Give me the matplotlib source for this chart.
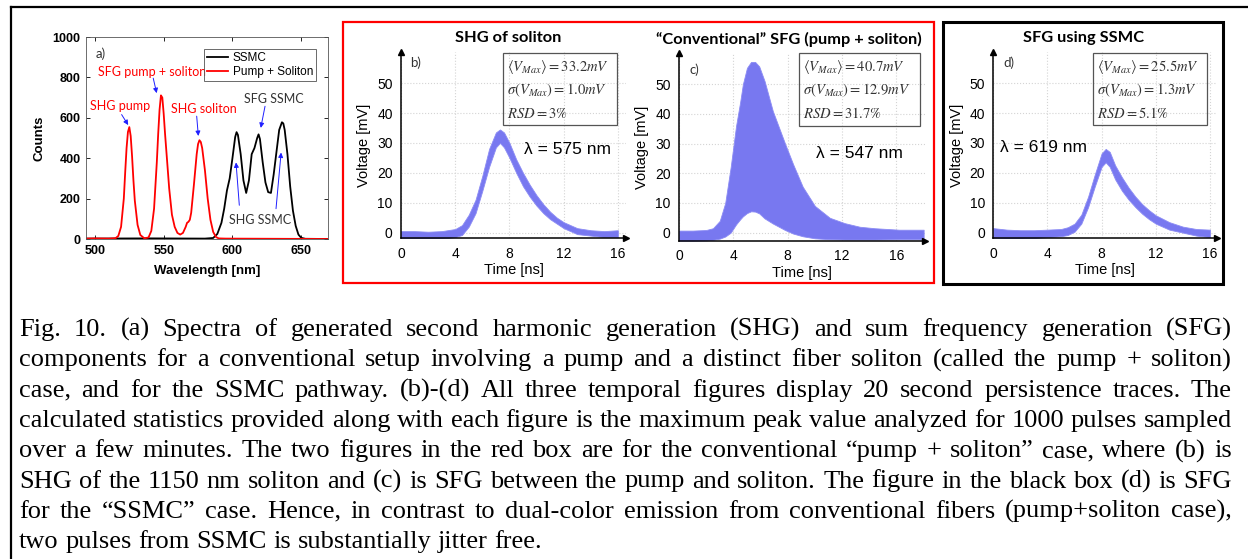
import matplotlib
matplotlib.use("Agg")
import matplotlib.pyplot as plt
from matplotlib.patches import Rectangle
from matplotlib.lines import Line2D

# ---- data: panel a, spectra ----
wl_red = [493, 500, 510, 515, 517, 519, 521, 522, 523, 524, 525, 526, 527, 528, 529, 531,
          533, 536, 539, 541, 543, 545, 546, 547, 548, 549, 550, 551, 552, 554, 556, 558,
          560, 562, 564, 566, 567, 568, 569, 570, 572, 574, 575, 576, 577, 578, 580, 582,
          584, 586, 588, 590, 595, 670]
counts_red = [2, 3, 2, 4, 15, 60, 200, 330, 450, 530, 554, 510, 410, 290, 190, 70,
              20, 3, 8, 40, 150, 380, 520, 640, 711, 700, 620, 520, 430, 250, 120, 60,
              30, 22, 30, 60, 80, 85, 95, 130, 270, 420, 470, 489, 480, 450, 340, 200,
              95, 35, 10, 3, 2, 0]
wl_ssmc = [493, 540, 580, 586, 589, 592, 594, 596, 598, 600, 602, 603, 604, 606, 608, 610,
           612, 614, 616, 618, 619, 620, 622, 624, 626, 628, 630, 632, 634, 636, 637, 638,
           640, 642, 644, 646, 648, 650, 653, 670]
counts_ssmc = [2, 3, 2, 5, 25, 80, 150, 240, 300, 400, 505, 529, 515, 420, 290, 228,
               290, 420, 450, 500, 518, 495, 380, 280, 232, 228, 320, 430, 540, 578, 572, 540,
               420, 260, 140, 65, 22, 6, 1, 0]

# ---- data: panels b-d, persistence envelopes (time in ns, voltage in mV) ----
t_b = [0, 1, 2, 3, 4, 4.5, 5, 5.5, 6, 6.5, 7, 7.3, 7.6, 8, 8.5, 9, 9.5, 10, 10.5, 11,
       11.5, 12, 13, 14, 15, 16]
up_b = [0.5, 0.5, 0.3, 0.5, 1.2, 2.5, 6, 11, 19, 28, 33.5, 34.5, 33.5, 30, 24.5, 20, 16,
        12.5, 9.5, 7, 5, 3.5, 1.5, 0.8, 0.5, 0.8]
lo_b = [-2, -2.3, -2.5, -2, -1.5, -0.8, 2, 6.5, 14, 22, 28.5, 30, 28.5, 25, 20, 15.5, 12,
        9, 6.5, 4.5, 3, 1.5, -0.5, -1, -1.5, -1.5]

t_c = [0, 1, 2, 2.5, 3, 3.4, 3.8, 4.2, 4.5, 4.7, 5.0, 5.3, 5.6, 5.9, 6.3, 6.9, 7.8, 8.4,
       9.1, 10, 11.1, 12.2, 13.3, 14.4, 16.2, 18]
up_c = [0.7, 0.7, 0.9, 1.5, 4, 10, 22, 36, 44, 50, 55.5, 57.5, 57.5, 56, 51, 41, 30, 23,
        15.5, 9, 5, 3.2, 2, 1.5, 1, 1]
lo_c = [-2.7, -2.7, -2.6, -2.4, -2, -1.3, 0, 2.8, 4.5, 5.5, 6.6, 7.2, 7.1, 6.5, 4.8, 3.1,
        0.9, -0.3, -1.2, -1.9, -2.2, -2.3, -2.3, -2.3, -2.2, -2.2]

t_d = [0, 1, 2, 3, 4, 5, 5.5, 6, 6.5, 7, 7.5, 8, 8.3, 8.6, 9, 9.5, 10, 10.5, 11, 11.5,
       12, 13, 14, 15, 16]
up_d = [1.5, 1, 0.8, 0.8, 1, 1.2, 1.8, 3, 6, 12, 19.5, 26.5, 28, 27, 22.5, 18.5, 15, 12,
        9.5, 7.5, 5.8, 3.5, 2, 1.2, 1]
lo_d = [-1.8, -2, -2, -1.8, -1.5, -1.2, -0.8, 0.3, 3, 8.5, 15.5, 22, 23.5, 22, 17.8, 14,
        11, 8.5, 6.3, 4.5, 3, 1, 0, -1, -1.5]

titles = ["SHG of soliton", "\u201cConventional\u201d SFG (pump + soliton)", "SFG using SSMC"]
panel_tags = ["b)", "c)", "d)"]
wavelengths = ["\u03bb = 575 nm", "\u03bb = 547 nm", "\u03bb = 619 nm"]
vmax_mean = ["33.2", "40.7", "25.5"]
vmax_std = ["1.0", "12.9", "1.3"]
rsd = ["3", "31.7", "5.1"]

caption = [
    "Fig. 10. (a) Spectra of generated second harmonic generation (SHG) and sum frequency generation (SFG)",
    "components for a conventional setup involving a pump and a distinct fiber soliton (called the pump + soliton)",
    "case, and for the SSMC pathway. (b)-(d) All three temporal figures display 20 second persistence traces. The",
    "calculated statistics provided along with each figure is the maximum peak value analyzed for 1000 pulses sampled",
    "over a few minutes. The two figures in the red box are for the conventional \u201cpump + soliton\u201d case, where (b) is",
    "SHG of the 1150 nm soliton and (c) is SFG between the pump and soliton. The figure in the black box (d) is SFG",
    "for the \u201cSSMC\u201d case. Hence, in contrast to dual-color emission from conventional fibers (pump+soliton case),",
    "two pulses from SSMC is substantially jitter free.",
]

W, H = 1248, 559
plt.rcParams["mathtext.fontset"] = "stix"
fig = plt.figure(figsize=(W / 100, H / 100), dpi=100)


def fx(x):
    return x / W


def fy(y):
    return 1 - y / H


def box(x0, y0, x1, y1):
    # figure-fraction rect from pixel corners (top-left origin)
    return [fx(x0), fy(y1), fx(x1) - fx(x0), fy(y0) - fy(y1)]


# outer frame (top and left edges only)
fig.add_artist(Line2D([fx(11), 1], [fy(7), fy(7)], color="black", lw=1.6, transform=fig.transFigure))
fig.add_artist(Line2D([fx(11), fx(11)], [fy(7), 0], color="black", lw=1.6, transform=fig.transFigure))

# ---------------- panel a ----------------
ax = fig.add_axes(box(86, 37, 328, 239))
ax.plot(wl_ssmc, counts_ssmc, color="black", lw=1.3, label="SSMC")
ax.plot(wl_red, counts_red, color="red", lw=1.3, label="Pump + Soliton")
ax.set_xlim(493.5, 669.5)
ax.set_ylim(0, 1000)
ax.set_xticks([500, 550, 600, 650])
ax.set_yticks([0, 200, 400, 600, 800, 1000])
ax.tick_params(direction="in", length=3, width=0.6, top=True, right=True, labelsize=9, pad=4)
for lab in ax.get_xticklabels() + ax.get_yticklabels():
    lab.set_fontfamily("Liberation Sans")
    lab.set_fontweight("bold")
for s in ax.spines.values():
    s.set_linewidth(0.6)
    s.set_color("#555555")
ax.set_ylabel("Counts", fontsize=9.5, fontweight="bold", family="Liberation Sans", labelpad=5)
ax.set_xlabel("Wavelength [nm]", fontsize=9.5, fontweight="bold", family="Liberation Sans", labelpad=6)
leg = ax.legend(loc="upper right", bbox_to_anchor=(0.975, 0.97), frameon=True,
                fancybox=False, edgecolor="#444444", handlelength=1.8, borderpad=0.25,
                labelspacing=0.15, handletextpad=0.4, prop={"family": "Liberation Sans", "size": 8.5})
leg.get_frame().set_linewidth(0.7)
ax.text(0.04, 0.95, "a)", transform=ax.transAxes, fontsize=9.5, family="Lato", color="#333333", va="top")

arrow_kw = dict(arrowstyle="-|>", color="#1f1fff", lw=0.7, mutation_scale=7, shrinkA=0, shrinkB=0)
red_labels = [("SHG pump", (518.2, 657), (519.4, 616), (524.2, 564)),
              ("SFG pump + soliton", (541.3, 828), (542.4, 796), (544.9, 722)),
              ("SHG soliton", (579.3, 646), (574.0, 608), (575.2, 510))]
for txt, tp, a0, a1 in red_labels:
    ax.text(tp[0], tp[1], txt, color="red", fontsize=9, family="Lato", ha="center", va="center")
    ax.annotate("", xy=a1, xytext=a0, arrowprops=arrow_kw)
ax.text(629.8, 695, "SFG SSMC", color="#333333", fontsize=9, family="Lato", ha="center", va="center")
ax.annotate("", xy=(620.6, 550), xytext=(623.7, 657), arrowprops=arrow_kw)
ax.text(620.1, 93, "SHG SSMC", color="#333333", fontsize=9, family="Lato", ha="center", va="center")
ax.annotate("", xy=(602.6, 379), xytext=(605.0, 167), arrowprops=arrow_kw)
ax.annotate("", xy=(635.4, 428), xytext=(631.7, 150), arrowprops=arrow_kw)

# ---------------- panels b, c, d ----------------
panels = [
    dict(rect=box(401, 51.7, 626, 238.3), xlim=(0, 16.6), ylim=(-1.9, 60.5),
         t=t_b, up=up_b, lo=lo_b, title_xy=(508, 38), stat=(503, 53, 617, 125),
         lam_xy=(567, 150), tag_xy=(410, 63)),
    dict(rect=box(679, 53.3, 925, 240.7), xlim=(0, 18.1), ylim=(-2.7, 60.4),
         t=t_c, up=up_c, lo=lo_c, title_xy=(789, 39), stat=(799, 53, 920, 126),
         lam_xy=(859, 154), tag_xy=(690, 70)),
    dict(rect=box(993.3, 51.7, 1216.7, 238.3), xlim=(0, 16.5), ylim=(-1.9, 60.5),
         t=t_d, up=up_d, lo=lo_d, title_xy=(1084, 38), stat=(1093, 53, 1207, 125),
         lam_xy=(1043, 147), tag_xy=(1003, 63)),
]

for i, p in enumerate(panels):
    ax = fig.add_axes(p["rect"])
    ax.fill_between(p["t"], p["lo"], p["up"], color="#7878f0", lw=0.6, edgecolor="#8c8cf4")
    ax.set_xlim(*p["xlim"])
    ax.set_ylim(*p["ylim"])
    ax.set_xticks([0, 4, 8, 12, 16])
    ax.set_yticks([0, 10, 20, 30, 40, 50])
    ax.grid(True, color="#d4d4d4", ls=":", lw=0.8)
    ax.set_axisbelow(True)
    for side in ("top", "right"):
        ax.spines[side].set_visible(False)
    for side in ("left", "bottom"):
        ax.spines[side].set_linewidth(1.1)
    ax.plot(1, 0, ">k", ms=4, transform=ax.transAxes, clip_on=False)
    ax.plot(0, 1, "^k", ms=4, transform=ax.transAxes, clip_on=False)
    ax.tick_params(length=0, labelsize=10, pad=6)
    for lab in ax.get_xticklabels() + ax.get_yticklabels():
        lab.set_fontfamily("Liberation Sans")
    ax.set_ylabel("Voltage [mV]", fontsize=10.5, family="Liberation Sans", labelpad=4)
    ax.set_xlabel("Time [ns]", fontsize=10.5, family="Liberation Sans", labelpad=2)

    tx, ty = p["title_xy"]
    fig.text(fx(tx), fy(ty), titles[i], ha="center", va="center", fontsize=11.8,
             fontweight="bold", family="Lato")
    gx, gy = p["tag_xy"]
    fig.text(fx(gx), fy(gy), panel_tags[i], ha="left", va="center", fontsize=9.5,
             family="Lato", color="#333333")
    lx, ly = p["lam_xy"]
    fig.text(fx(lx), fy(ly), wavelengths[i], ha="center", va="center", fontsize=12.5,
             family="Liberation Sans")

    x0, y0, x1, y1 = p["stat"]
    fig.add_artist(Rectangle((fx(x0), fy(y1)), fx(x1) - fx(x0), fy(y0) - fy(y1),
                             transform=fig.transFigure, fill=False, ec="#555555", lw=0.9))
    lines = [r"$\langle V_{Max}\rangle = %smV$" % vmax_mean[i],
             r"$\sigma\left(V_{Max}\right) = %smV$" % vmax_std[i],
             r"$RSD = %s\%%$" % rsd[i]]
    for k, s in enumerate(lines):
        fig.text(fx(x0 + 4), fy(y0 + 14 + k * 23.5), s, ha="left", va="center",
                 fontsize=10.5, color="#333333")

# grouping boxes
fig.add_artist(Rectangle((fx(343), fy(283.3)), fx(934.5) - fx(343), fy(21.7) - fy(283.3),
                         transform=fig.transFigure, fill=False, ec="red", lw=1.6))
fig.add_artist(Rectangle((fx(942.7), fy(284.3)), fx(1222.7) - fx(942.7), fy(22.3) - fy(284.3),
                         transform=fig.transFigure, fill=False, ec="black", lw=2.2))

# ---------------- caption (justified) ----------------
renderer = fig.canvas.get_renderer()
left, right = 19, 1232
base0, step = 336, 30.3
serif = "Liberation Serif"


def text_width(s, size):
    t = fig.text(0, 0, s, fontsize=size, family=serif)
    w = t.get_window_extent(renderer).width
    t.remove()
    return w


# size the font so the tightest line just fits, as a typeset paragraph would
ref_size = 10.0
space10 = text_width("a a", ref_size) - text_width("aa", ref_size)
natural = [sum(text_width(w, ref_size) for w in ln.split(" ")) + space10 * (len(ln.split(" ")) - 1)
           for ln in caption]
cap_size = ref_size * (right - left) / max(natural) * 0.998
space = text_width("a a", cap_size) - text_width("aa", cap_size)

for n, line in enumerate(caption):
    words = line.split(" ")
    objs = [fig.text(0, 0, w, fontsize=cap_size, family=serif, va="baseline") for w in words]
    widths = [o.get_window_extent(renderer).width for o in objs]
    if n < len(caption) - 1:
        gap = (right - left - sum(widths)) / (len(words) - 1)
    else:
        gap = space
    x = left
    for o, w in zip(objs, widths):
        o.set_position((fx(x), fy(base0 + n * step)))
        x += w + gap

fig.savefig("out.png", dpi=100)
